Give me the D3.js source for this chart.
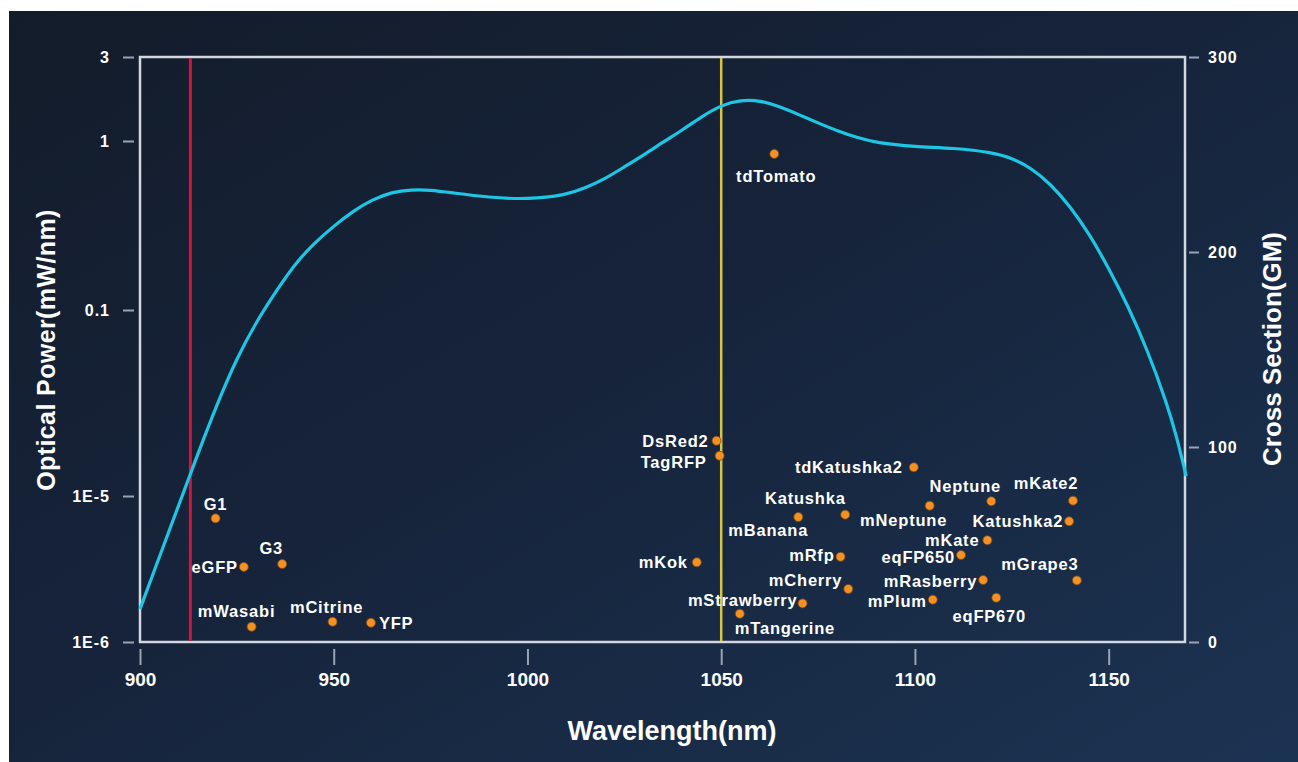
<!DOCTYPE html>
<html>
<head>
<meta charset="utf-8">
<script src="https://cdn.jsdelivr.net/npm/d3@7"></script>
<style>
  html, body { margin: 0; padding: 0; background: #fff; }
  svg { display: block; }
  text { font-family: "Liberation Sans", Arial, sans-serif; font-weight: bold; fill: #fff; }
</style>
</head>
<body>
<svg id="chart"></svg>
<script>
// laser optical power spectrum (mW/nm)
var wavelengths = [900, 905, 910, 915, 920, 925, 930, 935, 940, 945, 950, 955, 960, 965, 970, 975, 980, 990,
                   1000, 1010, 1015, 1020, 1025, 1030, 1035, 1040, 1045, 1050, 1055, 1060, 1065, 1070, 1075,
                   1080, 1085, 1090, 1100, 1110, 1120, 1125, 1130, 1135, 1140, 1145, 1150, 1155, 1160, 1165, 1167.5, 1170];
var power = [1.68e-6, 3.82e-6, 8.68e-6, 8.41e-5, 1.0e-3, 9.29e-3, 0.0552, 0.128, 0.188, 0.249, 0.314, 0.385, 0.451, 0.499, 0.516, 0.513, 0.496, 0.463,
             0.451, 0.479, 0.528, 0.597, 0.703, 0.826, 0.986, 1.155, 1.378, 1.60, 1.71, 1.70, 1.571, 1.413, 1.267,
             1.14, 1.047, 0.976, 0.925, 0.909, 0.856, 0.793, 0.692, 0.557, 0.412, 0.282, 0.177, 0.1056, 0.0138, 1.0e-3, 1.95e-4, 2.69e-5];

// fluorescent proteins: two-photon peak (nm) and cross section (GM)
var proteins = ["G1", "eGFP", "G3", "mWasabi", "mCitrine", "YFP", "DsRed2", "TagRFP", "mKok", "tdTomato",
                "Katushka", "mBanana", "mRfp", "mCherry", "mStrawberry", "mTangerine", "tdKatushka2", "mNeptune",
                "Neptune", "mKate2", "Katushka2", "mKate", "eqFP650", "mGrape3", "mRasberry", "eqFP670", "mPlum"];
var peakNm = [919.5, 926.8, 936.7, 928.8, 949.7, 959.6, 1048.8, 1049.6, 1043.7, 1063.7,
              1069.9, 1082.0, 1080.8, 1082.8, 1071.0, 1054.8, 1099.7, 1103.8,
              1119.7, 1140.8, 1139.8, 1118.7, 1111.9, 1141.8, 1117.6, 1121.0, 1104.6];
var crossGM = [63.4, 38.5, 40.0, 7.8, 10.4, 9.9, 103.2, 95.5, 40.9, 250.3,
               64.1, 65.3, 43.7, 27.2, 19.8, 14.5, 89.6, 69.9,
               72.2, 72.5, 61.9, 52.2, 44.6, 31.6, 31.8, 22.7, 21.7];

var leftTicks = [1e-6, 1e-5, 0.1, 1, 3];
var leftTickText = ["1E-6", "1E-5", "0.1", "1", "3"];
var rightTicks = [0, 100, 200, 300];
var xTicks = [900, 950, 1000, 1050, 1100, 1150];
var redLineNm = 913;
var yellowLineNm = 1050;

// label placement: [dx, dy, anchor]
var labelPos = {
  "G1": [0, -14, "middle"], "eGFP": [-6, 0, "end"], "G3": [-11, -16, "middle"],
  "mWasabi": [-15, -16, "middle"], "mCitrine": [-6, -15, "middle"], "YFP": [8, 0, "start"],
  "DsRed2": [-8, 0, "end"], "TagRFP": [-13, 6, "end"], "mKok": [-9, 0, "end"],
  "tdTomato": [2, 22, "middle"], "Katushka": [7, -19, "middle"], "mBanana": [-77, 15, "middle"],
  "mRfp": [-6, -2, "end"], "mCherry": [-6, -9, "end"], "mStrawberry": [-5, -3, "end"],
  "mTangerine": [-5, 14, "start"], "tdKatushka2": [-11, 0, "end"], "mNeptune": [-26, 14, "middle"],
  "Neptune": [-26, -15, "middle"], "mKate2": [-27, -18, "middle"], "Katushka2": [-6, 0, "end"],
  "mKate": [-8, 0, "end"], "eqFP650": [-6, 2, "end"], "mGrape3": [-37, -16, "middle"],
  "mRasberry": [-6, 1, "end"], "eqFP670": [-7, 18, "middle"], "mPlum": [-6, 1, "end"]
};

var W = 1298, H = 762;
var svg = d3.select("#chart").attr("width", W).attr("height", H);

var defs = svg.append("defs");
var grad = defs.append("linearGradient").attr("id", "bg")
  .attr("x1", "0%").attr("y1", "0%").attr("x2", "100%").attr("y2", "100%");
grad.append("stop").attr("offset", "0%").attr("stop-color", "#131c2a");
grad.append("stop").attr("offset", "45%").attr("stop-color", "#16233a");
grad.append("stop").attr("offset", "100%").attr("stop-color", "#1b3352");

svg.append("rect").attr("x", 9).attr("y", 11).attr("width", W - 9).attr("height", H - 11)
  .attr("fill", "url(#bg)");

var plot = { left: 140, right: 1185, top: 57, bottom: 642 };

var x = d3.scaleLinear().domain([900, 1169.7]).range([plot.left, plot.right]);
var yLeft = d3.scaleLog().domain([1e-6, 1e-5, 0.1, 1, 3]).range([642, 496, 310, 141, 57]);
var yRight = d3.scaleLinear().domain([0, 300]).range([plot.bottom, plot.top]);

function styleTicks(g, size, family, spacing) {
  g.select(".domain").remove();
  g.selectAll("line").attr("stroke", "#9aa3b2").attr("stroke-width", 2);
  g.selectAll("text").attr("fill", "#fff").style("font-size", size)
    .style("font-family", family).style("font-weight", "bold")
    .style("letter-spacing", spacing);
}

// axes
var gl = svg.append("g").attr("transform", "translate(134,0)")
  .call(d3.axisLeft(yLeft).tickValues(leftTicks).tickSize(11).tickPadding(13)
    .tickFormat(function (d, i) { return leftTickText[i]; }));
styleTicks(gl, "16px", "'Liberation Sans', Arial, sans-serif", "1px");

var gr = svg.append("g").attr("transform", "translate(1189,0)")
  .call(d3.axisRight(yRight).tickValues(rightTicks).tickSize(10).tickPadding(9));
styleTicks(gr, "16px", "'Liberation Sans', Arial, sans-serif", "1px");

var gx = svg.append("g").attr("transform", "translate(0,649)")
  .call(d3.axisBottom(x).tickValues(xTicks).tickSize(16).tickPadding(8).tickFormat(d3.format("d")));
styleTicks(gx, "19px", "'Liberation Sans Narrow', 'Arial Narrow', 'Liberation Sans', sans-serif", "0px");

// frame
svg.append("rect")
  .attr("x", plot.left).attr("y", plot.top)
  .attr("width", plot.right - plot.left).attr("height", plot.bottom - plot.top)
  .attr("fill", "none").attr("stroke", "#d3d7de").attr("stroke-width", 2.5);

// reference lines
svg.append("line")
  .attr("x1", x(redLineNm)).attr("x2", x(redLineNm))
  .attr("y1", plot.top + 1).attr("y2", plot.bottom - 1)
  .attr("stroke", "#d3143c").attr("stroke-width", 3);
svg.append("line")
  .attr("x1", x(yellowLineNm)).attr("x2", x(yellowLineNm))
  .attr("y1", plot.top + 1).attr("y2", plot.bottom - 1)
  .attr("stroke", "#d6c543").attr("stroke-width", 2.5);

// power curve
var line = d3.line()
  .x(function (d) { return x(d); })
  .y(function (d, i) { return yLeft(power[i]); })
  .curve(d3.curveBasis);
svg.append("path").datum(wavelengths)
  .attr("d", line)
  .attr("fill", "none").attr("stroke", "#1ec6e6").attr("stroke-width", 3.2);

// proteins
var pts = svg.append("g");
proteins.forEach(function (name, i) {
  var cx = x(peakNm[i]), cy = yRight(crossGM[i]);
  var p = labelPos[name];
  pts.append("circle").attr("cx", cx).attr("cy", cy).attr("r", 4.5)
    .attr("fill", "#f59023").attr("stroke", "#7a4a1a").attr("stroke-width", 0.8);
  pts.append("text")
    .attr("x", cx + p[0]).attr("y", cy + p[1])
    .attr("text-anchor", p[2]).attr("dominant-baseline", "central")
    .style("font-size", "16.5px").style("letter-spacing", "0.8px")
    .text(name);
});

// axis titles
svg.append("text")
  .attr("transform", "translate(672,731)")
  .attr("text-anchor", "middle").attr("dominant-baseline", "central")
  .style("font-size", "27px")
  .text("Wavelength(nm)");

svg.append("text")
  .attr("transform", "translate(46,350) rotate(-90)")
  .attr("text-anchor", "middle").attr("dominant-baseline", "central")
  .style("font-size", "25px").style("letter-spacing", "0.4px")
  .text("Optical Power(mW/nm)");

svg.append("text")
  .attr("transform", "translate(1272,349) rotate(-90)")
  .attr("text-anchor", "middle").attr("dominant-baseline", "central")
  .style("font-size", "26px")
  .text("Cross Section(GM)");
</script>
</body>
</html>
